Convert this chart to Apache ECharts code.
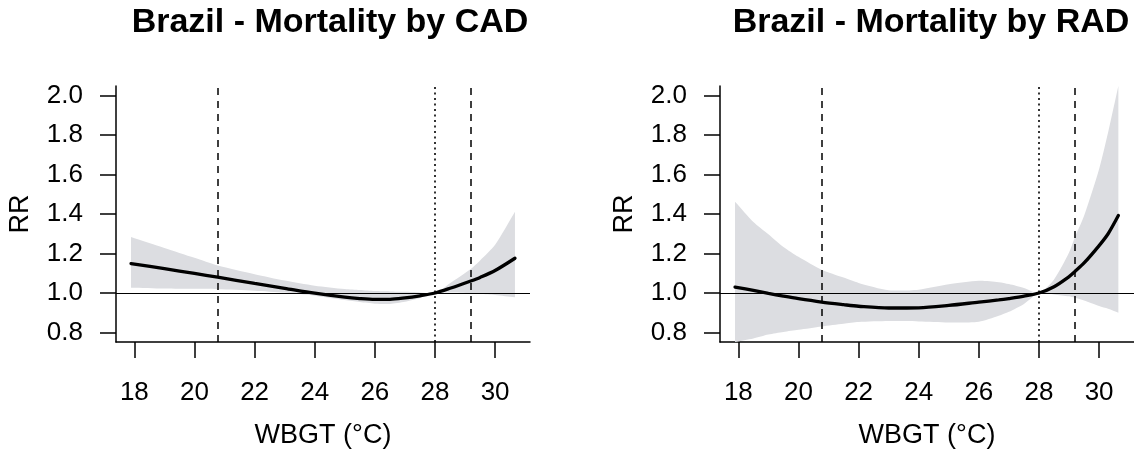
<!DOCTYPE html>
<html>
<head>
<meta charset="utf-8">
<script src="https://cdn.jsdelivr.net/npm/echarts@6/dist/echarts.min.js"></script>
<style>
html,body{margin:0;padding:0;background:#fff;}
#chart{width:1134px;height:457px;}
</style>
</head>
<body>
<div id="chart"></div>
<script>
// ---- data ----
const titles = ['Brazil - Mortality by CAD', 'Brazil - Mortality by RAD'];
const xTicks = [18, 20, 22, 24, 26, 28, 30];
const yTicks = [0.8, 1.0, 1.2, 1.4, 1.6, 1.8, 2.0];
const xName = 'WBGT (°C)';
const yName = 'RR';

const cadWBGT = [17.89, 19, 20, 20.77, 22, 23, 24, 25, 25.5, 26, 26.5, 27, 27.5, 28, 28.5, 29.19, 29.5, 30, 30.66];
const cadRR   = [1.149, 1.123, 1.099, 1.080, 1.049, 1.024, 0.999, 0.979, 0.972, 0.968, 0.968, 0.975, 0.986, 1.0, 1.024, 1.061, 1.079, 1.114, 1.176];
const cadLow  = [1.027, 1.023, 1.021, 1.019, 1.012, 1.002, 0.986, 0.964, 0.954, 0.946, 0.945, 0.956, 0.975, 1.0, 1.002, 0.998, 0.995, 0.990, 0.978];
const cadHigh = [1.283, 1.228, 1.178, 1.139, 1.095, 1.063, 1.037, 1.020, 1.015, 1.010, 1.008, 1.006, 1.003, 1.0, 1.050, 1.122, 1.165, 1.244, 1.411];

const radWBGT = [17.89, 18.5, 19, 19.5, 20, 20.77, 21.5, 22, 23, 24, 25, 26, 26.66, 27, 27.5, 28, 28.5, 29, 29.19, 29.5, 30, 30.3, 30.64];
const radRR   = [1.030, 1.013, 0.998, 0.984, 0.971, 0.954, 0.941, 0.933, 0.924, 0.925, 0.937, 0.954, 0.965, 0.972, 0.984, 1.0, 1.032, 1.083, 1.108, 1.152, 1.240, 1.300, 1.392];
const radLow  = [0.745, 0.770, 0.790, 0.803, 0.814, 0.831, 0.845, 0.853, 0.858, 0.856, 0.851, 0.855, 0.885, 0.905, 0.945, 1.0, 0.993, 0.983, 0.976, 0.962, 0.934, 0.920, 0.900];
const radHigh = [1.462, 1.360, 1.298, 1.233, 1.183, 1.118, 1.078, 1.051, 1.014, 1.017, 1.044, 1.062, 1.055, 1.045, 1.025, 1.0, 1.069, 1.205, 1.281, 1.391, 1.628, 1.814, 2.100];

const refDashed = [20.77, 29.19];
const refDotted = [28.0];
const refH = 1.0;

// ---- chart ----
const FONT = '"Liberation Sans", Arial, sans-serif';
const chart = echarts.init(document.getElementById('chart'));

const grids = [
  {left: 116, top: 86, width: 414, height: 256},
  {left: 720, top: 86, width: 414, height: 256}
];

function xAxisFor(i) {
  return {
    gridIndex: i, type: 'value', min: 17.39, max: 31.16,
    axisLine: {show: true, onZero: false, lineStyle: {color: '#000', width: 1.5}},
    axisTick: {show: true, customValues: xTicks, length: 16, lineStyle: {color: '#000', width: 1.5}},
    axisLabel: {customValues: xTicks, fontSize: 26, color: '#000', fontFamily: FONT, margin: 38},
    splitLine: {show: false},
    name: xName, nameLocation: 'middle', nameGap: 80,
    nameTextStyle: {fontSize: 27, color: '#000', fontFamily: FONT}
  };
}
function yAxisFor(i) {
  return {
    gridIndex: i, type: 'value', min: 0.752, max: 2.048,
    axisLine: {show: true, onZero: false, lineStyle: {color: '#000', width: 1.5}},
    axisTick: {show: true, customValues: yTicks, length: 16, lineStyle: {color: '#000', width: 1.5}},
    axisLabel: {customValues: yTicks, fontSize: 26, color: '#000', fontFamily: FONT, margin: 33,
      formatter: v => Number(v).toFixed(1)},
    splitLine: {show: false},
    name: yName, nameLocation: 'middle', nameGap: 82, nameRotate: 90,
    nameTextStyle: {fontSize: 27, color: '#000', fontFamily: FONT}
  };
}

function bandSeries(i, xs, lo, hi) {
  const rows = xs.map((x, k) => [x, lo[k], hi[k]]);
  return {
    type: 'custom', xAxisIndex: i, yAxisIndex: i, z: 1, clip: true, silent: true,
    data: rows,
    encode: {x: 0, y: [1, 2]},
    renderItem: function (params, api) {
      if (params.dataIndex !== 0) return null;
      const up = rows.map(r => api.coord([r[0], r[2]]));
      const dn = rows.map(r => api.coord([r[0], r[1]])).reverse();
      // duplicate the end vertices so the smoothing keeps the vertical ends sharp
      const n = up.length;
      let pts = [up[0]].concat(up, [up[n - 1]], [dn[0]], dn, [dn[n - 1]]);
      const cs = params.coordSys;
      pts = echarts.graphic.clipPointsByRect(pts, {x: cs.x, y: cs.y, width: cs.width, height: cs.height});
      return {
        type: 'polygon',
        shape: {points: pts, smooth: 0.25},
        style: {fill: '#dcdde1', stroke: null}
      };
    }
  };
}

function refSeries(i, xs, ys) {
  const ml = [];
  refDashed.forEach(v => ml.push({xAxis: v, lineStyle: {type: [7, 6], width: 1.5, color: '#000'}}));
  refDotted.forEach(v => ml.push({xAxis: v, lineStyle: {type: [2, 3.5], width: 1.6, color: '#000'}}));
  ml.push({yAxis: refH, lineStyle: {type: 'solid', width: 1.2, color: '#000'}});
  return {
    type: 'line', xAxisIndex: i, yAxisIndex: i, z: 2, silent: true,
    data: xs.map((x, k) => [x, ys[k]]),
    showSymbol: false, symbol: 'none',
    lineStyle: {opacity: 0},
    markLine: {silent: true, symbol: ['none', 'none'], label: {show: false}, animation: false, data: ml}
  };
}

function curveSeries(i, xs, ys) {
  return {
    type: 'line', xAxisIndex: i, yAxisIndex: i, z: 3, silent: true,
    data: xs.map((x, k) => [x, ys[k]]),
    showSymbol: false, symbol: 'none', smooth: 0.3,
    lineStyle: {color: '#000', width: 3.3, cap: 'round'}
  };
}

chart.setOption({
  animation: false,
  backgroundColor: '#fff',
  textStyle: {fontFamily: FONT},
  grid: grids,
  xAxis: [xAxisFor(0), xAxisFor(1)],
  yAxis: [yAxisFor(0), yAxisFor(1)],
  graphic: [
    {type: 'text', x: 330, y: 23, style: {text: titles[0], fontSize: 34, fontWeight: 'bold', fontFamily: FONT, fill: '#000', align: 'center', verticalAlign: 'middle'}},
    {type: 'text', x: 931, y: 23, style: {text: titles[1], fontSize: 34, fontWeight: 'bold', fontFamily: FONT, fill: '#000', align: 'center', verticalAlign: 'middle'}}
  ],
  series: [
    bandSeries(0, cadWBGT, cadLow, cadHigh),
    refSeries(0, cadWBGT, cadRR),
    curveSeries(0, cadWBGT, cadRR),
    bandSeries(1, radWBGT, radLow, radHigh),
    refSeries(1, radWBGT, radRR),
    curveSeries(1, radWBGT, radRR)
  ]
});
</script>
</body>
</html>
